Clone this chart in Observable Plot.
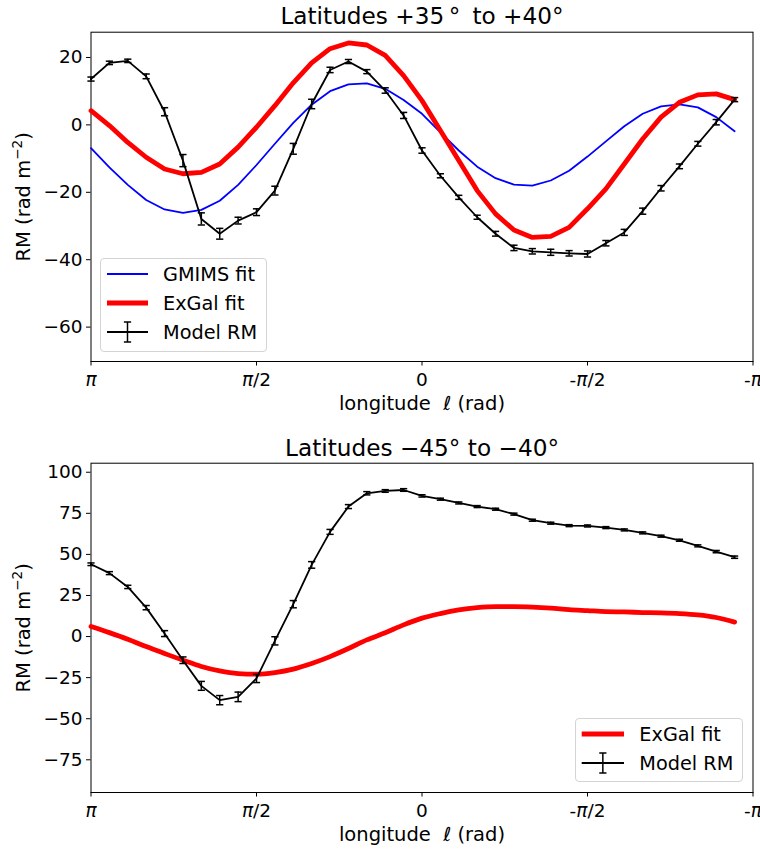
<!DOCTYPE html>
<html><head><meta charset="utf-8">
<script src="https://cdn.jsdelivr.net/npm/d3@7"></script>
<script src="https://cdn.jsdelivr.net/npm/@observablehq/plot@0.6"></script>
<style>
body{margin:0;background:#fff;font-family:"DejaVu Sans";}
#wrap{position:relative;width:760px;height:850px;}
.panel{position:relative;width:760px;height:425px;}
.legend{position:absolute;box-sizing:border-box;border:1px solid #d4d4d4;border-radius:4px;background:rgba(255,255,255,0.8);}
.legend svg{position:absolute;left:-1px;top:-1px;overflow:visible;font-family:"DejaVu Sans";}
</style></head><body>
<div id="wrap"><div class="panel" id="p1"></div><div class="panel" id="p2"></div></div>
<script>
// longitude bins (degrees), plotted from +180 (π) to -180 (-π)
const longitude = [180,170,160,150,140,130,120,110,100,90,80,70,60,50,40,30,20,10,0,-10,-20,-30,-40,-50,-60,-70,-80,-90,-100,-110,-120,-130,-140,-150,-160,-170];
const xTicks = [180,90,0,-90,-180];
const xTickLabels = ["π","π/2","0","-π/2","-π"];

// Top panel: latitudes +35 to +40
const modelTop = [13.6,18.4,19.0,14.4,3.9,-10.6,-27.9,-32.3,-28.4,-25.9,-19.5,-7.1,6.2,16.3,18.8,15.8,10.2,2.8,-7.6,-15.1,-21.5,-27.4,-32.3,-36.5,-37.5,-37.8,-38.1,-38.3,-35.1,-31.9,-25.6,-18.8,-12.3,-5.6,0.8,7.5];
const errTop = [0.6,0.5,0.5,0.7,1.2,1.8,1.8,1.6,1.0,1.0,1.3,1.6,1.4,0.8,0.6,0.6,0.8,0.9,0.8,0.6,0.6,0.6,0.7,0.8,0.8,0.9,0.8,0.9,0.8,0.9,0.9,0.8,0.7,0.7,0.8,0.6];
const exgalTop = [4.2,-0.2,-5.2,-9.6,-13.1,-14.5,-14.1,-11.6,-6.6,-0.7,5.7,12.5,18.4,22.6,24.3,23.7,20.6,14.6,7.2,-1.7,-10.6,-19.5,-26.4,-31.2,-33.4,-33.1,-30.4,-24.9,-19.0,-11.6,-4.2,2.3,6.7,8.9,9.2,7.5];
const gmimsTop = [-6.9,-12.6,-17.8,-22.3,-25.1,-26.1,-25.2,-22.5,-17.8,-11.9,-5.6,0.6,6.0,10.0,12.0,12.3,10.7,7.4,3.3,-2.2,-7.6,-12.4,-15.8,-17.7,-18.0,-16.5,-13.6,-9.4,-4.9,-0.4,3.3,5.5,6.1,5.2,2.3,-1.9];
const yTicksTop = [-60,-40,-20,0,20];

// Bottom panel: latitudes -45 to -40
const modelBot = [44.0,38.6,30.2,17.6,1.8,-14.4,-30.0,-38.7,-36.7,-25.5,-2.6,19.7,43.6,63.7,79.1,87.2,88.6,89.2,85.6,83.6,81.3,79.1,77.5,74.5,70.8,69.0,67.5,67.3,66.3,64.9,63.1,61.1,58.6,55.2,51.7,48.3];
const errBot = [0.8,0.9,1.0,1.3,1.8,2.0,2.7,2.8,2.9,2.5,2.5,2.2,2.0,1.5,1.2,1.0,0.8,0.8,0.7,0.6,0.6,0.6,0.6,0.6,0.6,0.6,0.6,0.6,0.6,0.6,0.6,0.6,0.6,0.6,0.7,0.7];
const exgalBot = [6.1,2.4,-1.6,-6.1,-10.3,-14.4,-18.2,-20.9,-22.5,-22.9,-21.9,-19.8,-16.4,-12.2,-7.3,-2.0,2.3,7.1,11.2,14.0,16.2,17.6,18.2,18.2,17.9,17.3,16.4,15.8,15.2,15.0,14.6,14.4,14.0,13.2,11.6,8.8];
const yTicksBot = [-75,-50,-25,0,25,50,75,100];

const fmtY = d => d < 0 ? "\u2212" + Math.abs(d) : String(d);
const cap = {draw(ctx){ ctx.moveTo(-3.6,0); ctx.lineTo(3.6,0); }};

function makePanel(o){
  const rows = longitude.map((l,i)=>({l, m:o.model[i], e:o.err[i], r:o.exgal[i], g:o.gmims ? o.gmims[i] : null}));
  const marks = [
    Plot.frame({stroke:"black", strokeWidth:1}),
    Plot.axisY({ticks:o.yTicks, tickFormat:fmtY, tickSize:4.5, tickPadding:4, fontSize:18.5, label:null}),
    Plot.axisX({ticks:xTicks, tickFormat:d=>xTickLabels[xTicks.indexOf(d)], tickSize:4.5, tickPadding:7, fontSize:18.5, label:null})
  ];
  if (o.gmims) marks.push(Plot.line(rows,{x:"l", y:"g", stroke:"#0000ff", strokeWidth:1.8}));
  marks.push(
    Plot.line(rows,{x:"l", y:"r", stroke:"#ff0000", strokeWidth:4.8, curve:o.redCurve}),
    Plot.line(rows,{x:"l", y:"m", stroke:"black", strokeWidth:1.8}),
    Plot.ruleX(rows,{x:"l", y1:d=>d.m-d.e, y2:d=>d.m+d.e, stroke:"black", strokeWidth:1.5}),
    Plot.dot(rows,{x:"l", y:d=>d.m-d.e, symbol:cap, stroke:"black", fill:"none", strokeWidth:1.5}),
    Plot.dot(rows,{x:"l", y:d=>d.m+d.e, symbol:cap, stroke:"black", fill:"none", strokeWidth:1.5}),
    Plot.text([o.title],{text:d=>d, frameAnchor:"top", textAnchor:"middle", lineAnchor:"bottom", dy:o.titleDy, fontSize:23.2, fill:"black"}),
    Plot.text(["longitude  \u2113 (rad)"],{text:d=>d, frameAnchor:"bottom", textAnchor:"middle", lineAnchor:"bottom", dy:48.5, fontSize:19.5, fill:"black"}),
    Plot.text(["RM (rad m\u22122)"],{text:d=>d, frameAnchor:"left", textAnchor:"middle", lineAnchor:"bottom", rotate:-90, dx:-61.5, fontSize:19.5, fill:"black"})
  );
  const svg = Plot.plot({
    width:760, height:425,
    marginLeft:90.5, marginRight:7.5, marginTop:o.mt, marginBottom:o.mb,
    style:{fontFamily:"DejaVu Sans", fontSize:"18.5px", background:"white", color:"black", overflow:"visible"},
    x:{type:"linear", domain:[180,-180]},
    y:{type:"linear", domain:o.yDomain},
    marks
  });
  // typographic touch-ups: italic π, superscript exponent
  d3.select(svg).selectAll("text").each(function(){
    const t = this;
    const s = t.textContent;
    if (s.includes("π")) {
      t.textContent = "";
      s.split(/(π)/).forEach(part=>{
        if (!part) return;
        const ts = document.createElementNS("http://www.w3.org/2000/svg","tspan");
        ts.textContent = part;
        if (part === "π") ts.setAttribute("font-style","italic");
        t.appendChild(ts);
      });
    } else if (s === "RM (rad m\u22122)") {
      t.textContent = "";
      const a = document.createElementNS("http://www.w3.org/2000/svg","tspan"); a.textContent = "RM (rad m";
      const b = document.createElementNS("http://www.w3.org/2000/svg","tspan"); b.textContent = "\u22122"; b.setAttribute("font-size","13.6px"); b.setAttribute("dy","-7.5");
      const c = document.createElementNS("http://www.w3.org/2000/svg","tspan"); c.textContent = ")"; c.setAttribute("dy","7.5");
      t.append(a,b,c);
    } else if (s.includes("\u2113")) {
      t.textContent = "";
      const a = document.createElementNS("http://www.w3.org/2000/svg","tspan"); a.textContent = "longitude  ";
      const b = document.createElementNS("http://www.w3.org/2000/svg","tspan"); b.textContent = "\u2113"; b.setAttribute("font-style","italic");
      const c = document.createElementNS("http://www.w3.org/2000/svg","tspan"); c.textContent = " (rad)";
      t.append(a,b,c);
    }
  });
  return svg;
}

function legend(parent, box, entries){
  const div = document.createElement("div");
  div.className = "legend";
  Object.assign(div.style,{left:box.left+"px", top:box.top+"px", width:box.w+"px", height:box.h+"px"});
  const ns = "http://www.w3.org/2000/svg";
  const svg = document.createElementNS(ns,"svg");
  svg.setAttribute("width", box.w); svg.setAttribute("height", box.h);
  const mk = (tag, attrs) => { const e = document.createElementNS(ns, tag); for (const k in attrs) e.setAttribute(k, attrs[k]); svg.appendChild(e); return e; };
  entries.forEach((en,i)=>{
    const y = box.rows[i];
    mk("line",{x1:box.x1, x2:box.x2, y1:y, y2:y, stroke:en.color, "stroke-width":en.w});
    if (en.err) {
      const cx = (box.x1+box.x2)/2;
      mk("line",{x1:cx, x2:cx, y1:y-10, y2:y+10, stroke:"black", "stroke-width":1.5});
      mk("line",{x1:cx-3.6, x2:cx+3.6, y1:y-10, y2:y-10, stroke:"black", "stroke-width":1.5});
      mk("line",{x1:cx-3.6, x2:cx+3.6, y1:y+10, y2:y+10, stroke:"black", "stroke-width":1.5});
    }
    const t = mk("text",{x:box.tx, y:y+6.8, "font-size":"19.3px", fill:"black"});
    t.textContent = en.label;
  });
  div.appendChild(svg);
  parent.appendChild(div);
}

const p1 = document.getElementById("p1");
p1.appendChild(makePanel({
  title:"Latitudes +35\u2009°\u2009 to +40°", titleDy:-8.4,
  model:modelTop, err:errTop, exgal:exgalTop, gmims:gmimsTop, redCurve:"linear",
  yDomain:[-70.2,27.5], yTicks:yTicksTop, mt:31.7, mb:64
}));
legend(p1,{left:100, top:258, w:167, h:94, rows:[16,45,74], x1:7, x2:48, tx:63},[
  {label:"GMIMS fit", color:"#0000ff", w:1.8},
  {label:"ExGal fit", color:"#ff0000", w:4.8},
  {label:"Model RM", color:"black", w:1.8, err:true}
]);

const p2 = document.getElementById("p2");
p2.appendChild(makePanel({
  title:"Latitudes \u221245° to \u221240°", titleDy:-7.7,
  model:modelBot, err:errBot, exgal:exgalBot, gmims:null, redCurve:"monotone-x",
  yDomain:[-94.9,105.5], yTicks:yTicksBot, mt:37.7, mb:58
}));
legend(p2,{left:575, top:293.3, w:168, h:63.4, rows:[16,45], x1:6.7, x2:49, tx:64.3},[
  {label:"ExGal fit", color:"#ff0000", w:4.8},
  {label:"Model RM", color:"black", w:1.8, err:true}
]);
</script>
</body></html>
